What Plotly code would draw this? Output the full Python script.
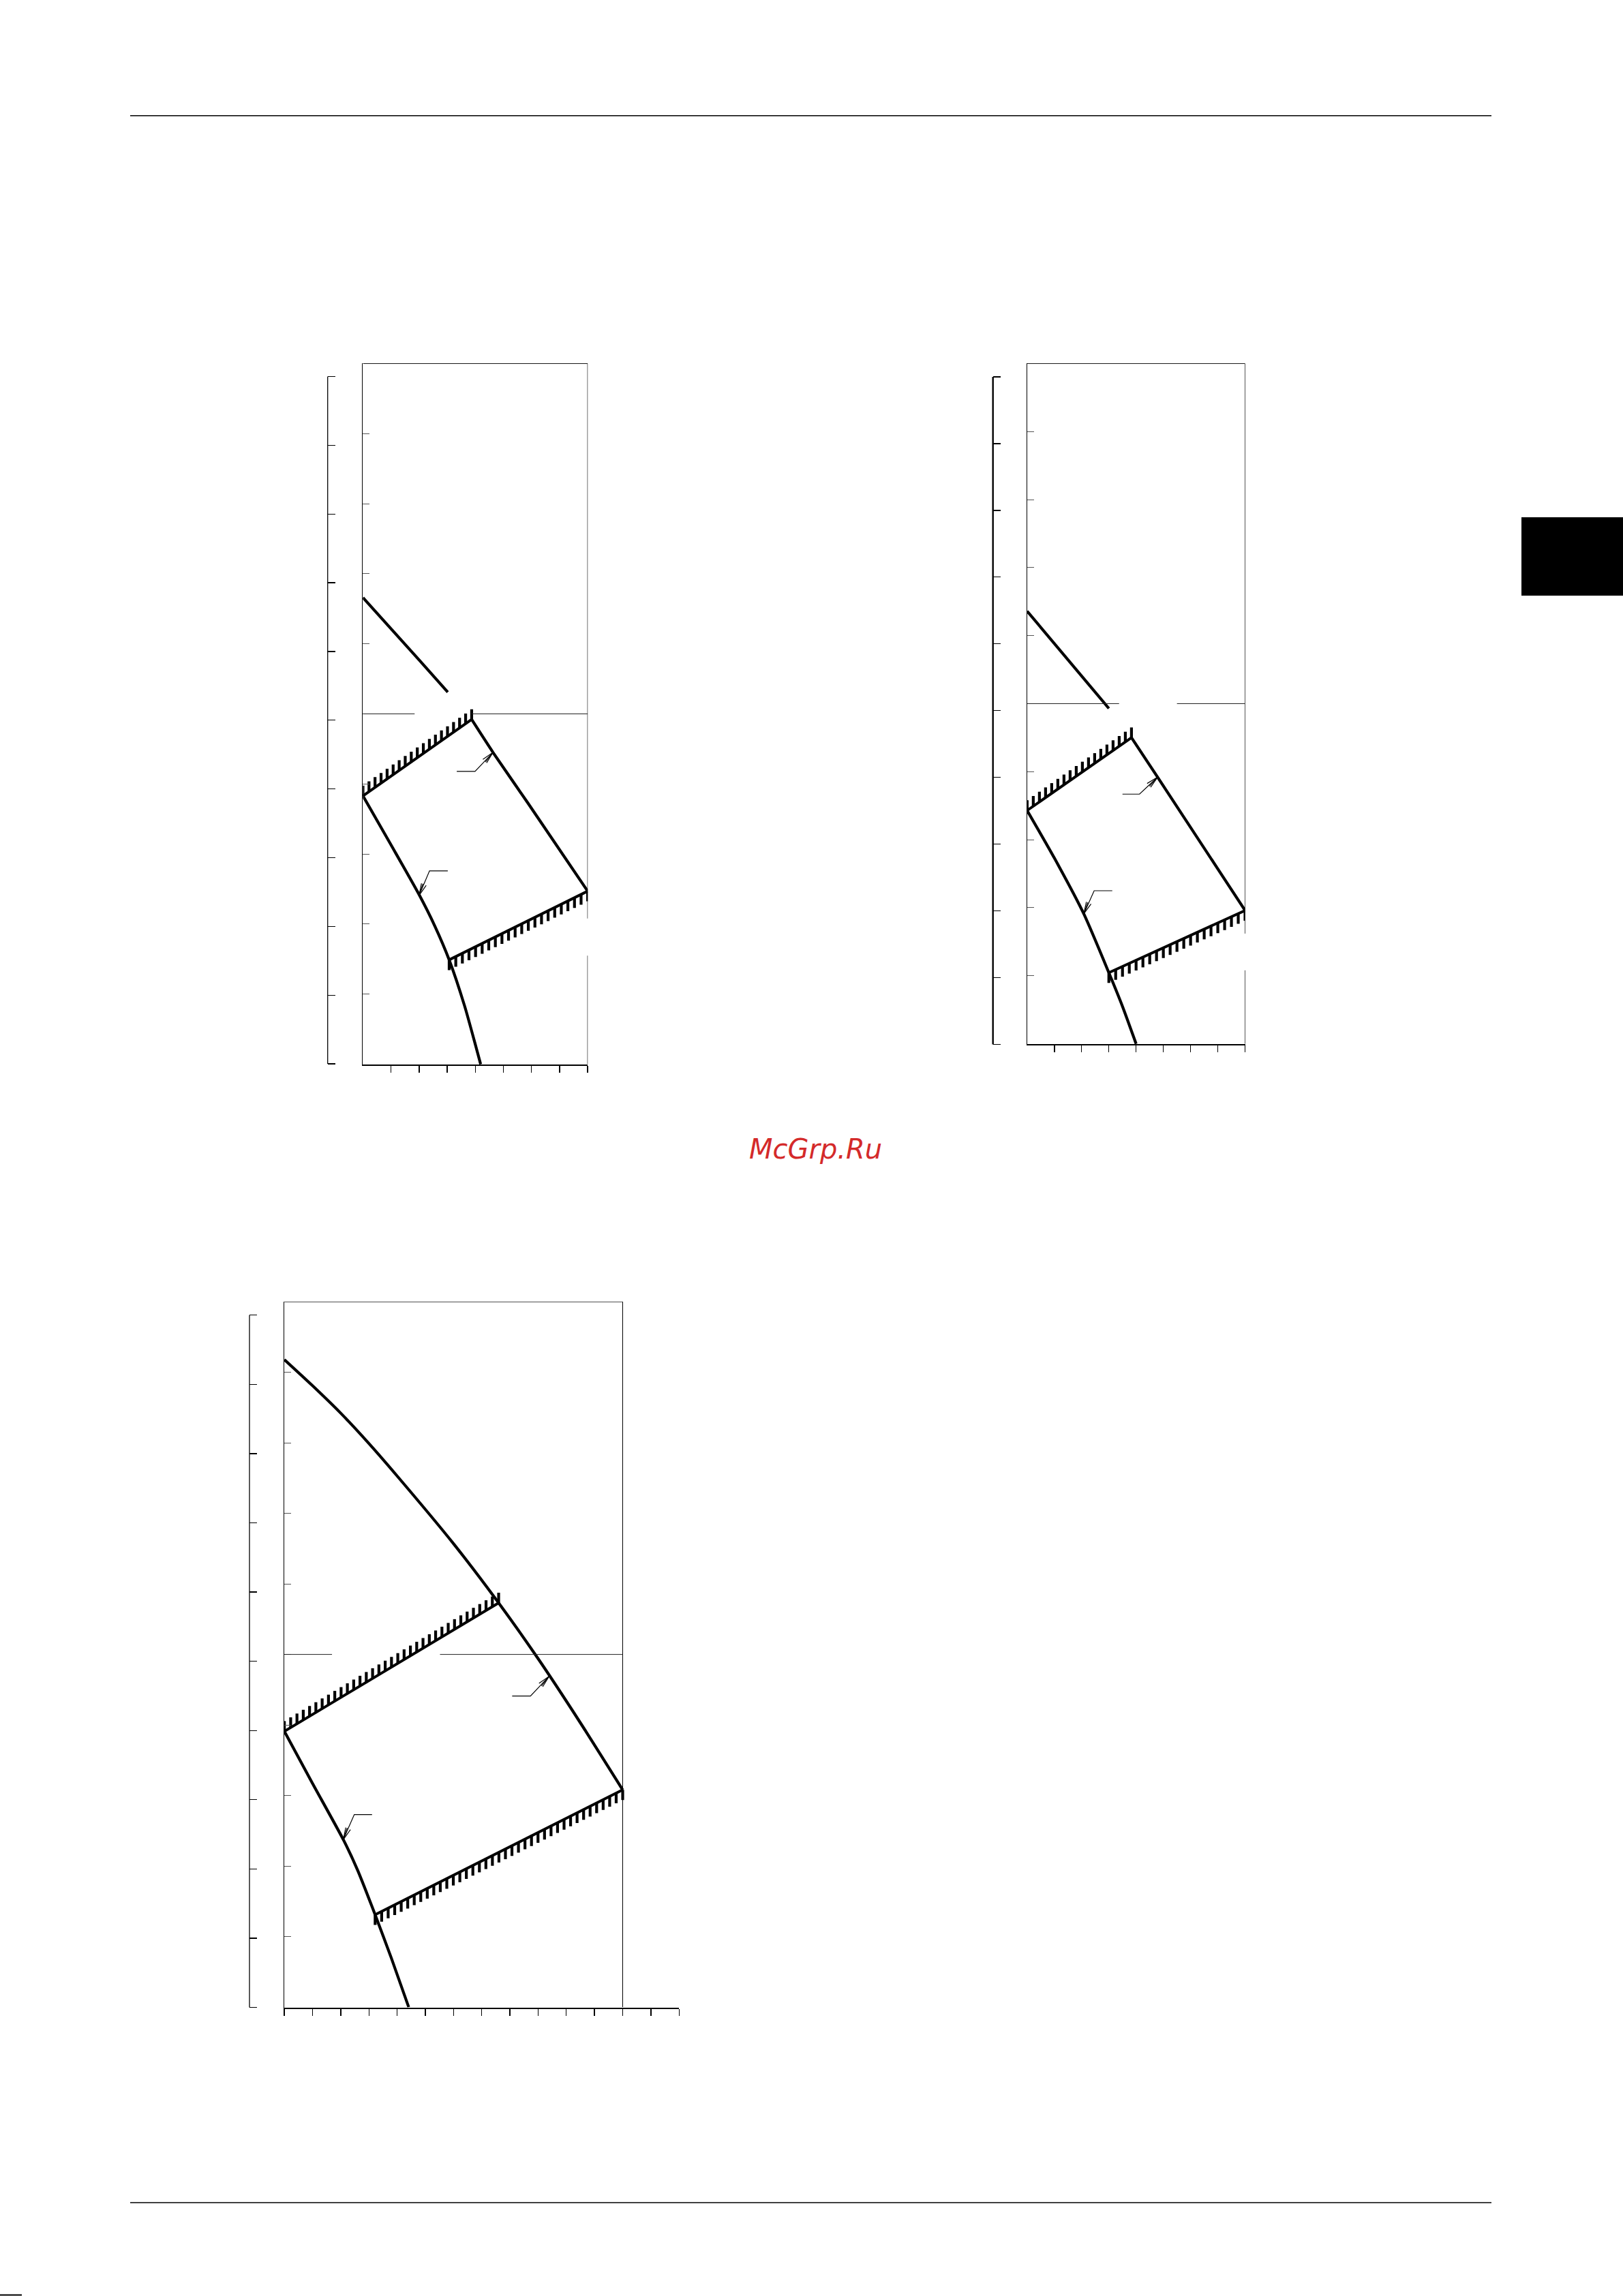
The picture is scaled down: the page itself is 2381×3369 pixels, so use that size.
import numpy as np
import plotly.graph_objects as go

W, H = 2381, 3369

# ---------------- data (chart units) ----------------
# Chart 1 (top left)
c1_A_x = [0, 1, 2, 3.02]
c1_A_y = [6.66, 6.22, 5.77, 5.31]
c1_HU_x = [0, 3.87]
c1_HU_y = [3.83, 4.92]
c1_B_x = [3.87, 4.63, 5.85, 8]
c1_B_y = [4.92, 4.45, 3.74, 2.47]
c1_C_x = [0, 1, 2, 2.55, 3.07, 3.62, 4.19]
c1_C_y = [3.83, 3.13, 2.42, 1.98, 1.49, 0.83, 0.0]
c1_HL_x = [3.07, 8]
c1_HL_y = [1.49, 2.47]
c1_LU_x = [3.34, 3.99, 4.63]
c1_LU_y = [4.18, 4.18, 4.45]
c1_LL_x = [3.02, 2.37, 2.0]
c1_LL_y = [2.76, 2.76, 2.41]

# Chart 2 (top right)
c2_A_x = [0, 1.5, 3.0]
c2_A_y = [6.36, 5.645, 4.93]
c2_HU_x = [0, 3.83]
c2_HU_y = [3.43, 4.50]
c2_B_x = [3.83, 4.79, 8]
c2_B_y = [4.50, 3.92, 1.96]
c2_C_x = [0, 1, 2.08, 3.0, 3.5, 4.0]
c2_C_y = [3.43, 2.73, 1.91, 1.045, 0.55, 0.0]
c2_HL_x = [3.0, 8]
c2_HL_y = [1.045, 1.96]
c2_LU_x = [3.5, 4.125, 4.79]
c2_LU_y = [3.67, 3.67, 3.92]
c2_LL_x = [3.125, 2.46, 2.08]
c2_LL_y = [2.25, 2.25, 1.91]

# Chart 3 (bottom)
c3_A_x = [0, 1, 2, 3, 4, 6, 7.6, 9, 10.5, 12]
c3_A_y = [9.18, 8.81, 8.42, 7.99, 7.53, 6.57, 5.73, 4.94, 4.03, 3.08]
c3_HU_x = [0, 7.6]
c3_HU_y = [3.91, 5.73]
c3_C_x = [0, 1, 2.11, 2.6, 3.22, 3.79, 4.41]
c3_C_y = [3.91, 3.17, 2.36, 1.94, 1.31, 0.70, 0.0]
c3_HL_x = [3.22, 12]
c3_HL_y = [1.31, 3.08]
c3_LU_x = [8.08, 8.73, 9.39]
c3_LU_y = [4.41, 4.41, 4.69]
c3_LL_x = [3.11, 2.48, 2.09]
c3_LL_y = [2.73, 2.73, 2.375]

# tick values
inner_ticks = list(range(0, 11))
outer_ticks = list(range(0, 11))
c1_xticks = list(range(1, 9))
c2_xticks = list(range(1, 9))
c3_xticks = list(range(0, 15))

# ---------------- layout geometry (pixels) ----------------
BOX1 = (532.3, 533, 862.3, 1562)
BOX2 = (1506.7, 533, 1826.7, 1532)
BOX3 = (417, 1909.7, 996.4, 2945.5)
OUT1 = (480.7, 552.5, 1561)
OUT2 = (1456.7, 553, 1532.4)
OUT3 = (366, 1929.7, 2945.5)

XR1, XR2, XR3 = [0, 8], [0, 8], [0, 14]
YR = [0, 10]
EPS = 0.004
PADU = 0.3  # outer-scale padding (units) so end ticks are drawn


def dom_x(x0, x1):
    return [x0 / W, x1 / W]


def dom_y(ytop, ybot):
    return [1 - ybot / H, 1 - ytop / H]


def scale(box, xr):
    X0, Y0, X1, Y1 = box
    return (X1 - X0) / (xr[1] - xr[0]), (Y1 - Y0) / (YR[1] - YR[0])


def hatch_bars(lx, ly, sx, sy, direction, step_px=10.5, bar_px=15.0):
    x0, x1 = lx[0], lx[-1]
    y0, y1 = ly[0], ly[-1]
    L = np.hypot((x1 - x0) * sx, (y1 - y0) * sy)
    n = max(int(L // step_px), 1)
    bx, by = [], []
    for t in np.linspace(0, 1, n + 1):
        xx = x0 + t * (x1 - x0)
        yy = y0 + t * (y1 - y0)
        bx += [xx, xx, None]
        by += [yy, yy + direction * bar_px / sy, None]
    return bx, by


def arrow_head(px, py, sx, sy, head_px=18, ang=12):
    dx = (px[-1] - px[-2]) * sx
    dy = (py[-1] - py[-2]) * sy
    n = np.hypot(dx, dy)
    ux, uy = dx / n, dy / n
    hx, hy = [], []
    for a in (ang, -ang, ang * 0.4):
        r = np.radians(a)
        vx = -(ux * np.cos(r) - uy * np.sin(r))
        vy = -(ux * np.sin(r) + uy * np.cos(r))
        hx += [px[-1], px[-1] + vx * head_px / sx, None]
        hy += [py[-1], py[-1] + vy * head_px / sy, None]
    return hx, hy


fig = go.Figure()


def add_chart(k, box, xr, curves, hatches, leaders):
    xa = "x" if k == 1 else f"x{k}"
    ya = "y" if k == 1 else f"y{k}"
    sx, sy = scale(box, xr)
    for (cx, cy, shape) in curves:
        fig.add_trace(go.Scatter(x=cx, y=cy, xaxis=xa, yaxis=ya, mode="lines",
                                 line=dict(color="black", width=4.2, shape=shape, smoothing=0.6),
                                 hoverinfo="skip", showlegend=False))
    for (hx, hy, d) in hatches:
        fig.add_trace(go.Scatter(x=hx, y=hy, xaxis=xa, yaxis=ya, mode="lines",
                                 line=dict(color="black", width=4.0),
                                 hoverinfo="skip", showlegend=False))
        bx, by = hatch_bars(hx, hy, sx, sy, d)
        fig.add_trace(go.Scatter(x=bx, y=by, xaxis=xa, yaxis=ya, mode="lines",
                                 line=dict(color="black", width=4.2),
                                 hoverinfo="skip", showlegend=False))
    for (lx, ly) in leaders:
        ax_, ay_ = arrow_head(lx, ly, sx, sy)
        fig.add_trace(go.Scatter(x=list(lx) + [None] + ax_, y=list(ly) + [None] + ay_,
                                 xaxis=xa, yaxis=ya, mode="lines",
                                 line=dict(color="black", width=1.2),
                                 hoverinfo="skip", showlegend=False))


add_chart(1, BOX1, XR1,
          [(c1_A_x, c1_A_y, "linear"), (c1_B_x, c1_B_y, "spline"), (c1_C_x, c1_C_y, "spline")],
          [(c1_HU_x, c1_HU_y, 1), (c1_HL_x, c1_HL_y, -1)],
          [(c1_LU_x, c1_LU_y), (c1_LL_x, c1_LL_y)])
add_chart(2, BOX2, XR2,
          [(c2_A_x, c2_A_y, "linear"), (c2_B_x, c2_B_y, "spline"), (c2_C_x, c2_C_y, "spline")],
          [(c2_HU_x, c2_HU_y, 1), (c2_HL_x, c2_HL_y, -1)],
          [(c2_LU_x, c2_LU_y), (c2_LL_x, c2_LL_y)])
add_chart(3, BOX3, XR3,
          [(c3_A_x, c3_A_y, "spline"), (c3_C_x, c3_C_y, "spline")],
          [(c3_HU_x, c3_HU_y, 1), (c3_HL_x, c3_HL_y, -1)],
          [(c3_LU_x, c3_LU_y), (c3_LL_x, c3_LL_y)])

# invisible anchors for outer scales
for k in (4, 5, 6):
    fig.add_trace(go.Scatter(x=[0.5] * len(outer_ticks), y=outer_ticks, xaxis=f"x{k}", yaxis=f"y{k}",
                             mode="markers", marker=dict(opacity=0), hoverinfo="skip", showlegend=False))

layout = dict(width=W, height=H, margin=dict(l=0, r=0, t=0, b=0, pad=0),
              paper_bgcolor="white", plot_bgcolor="white", showlegend=False)


def x_axis(box, xr, ticks, anchor):
    return dict(domain=dom_x(box[0], box[2]), range=[xr[0] - EPS, xr[1] + EPS], anchor=anchor,
                showline=True, linecolor="black", linewidth=2,
                ticks="outside", ticklen=10, tickwidth=1.4, tickcolor="black",
                tickvals=ticks, showticklabels=False, showgrid=False, zeroline=False,
                fixedrange=True)


def y_axis(box, anchor):
    return dict(domain=dom_y(box[1], box[3]), range=[YR[0] - EPS, YR[1] + EPS], anchor=anchor,
                showline=True, linecolor="black", linewidth=1,
                ticks="inside", ticklen=10, tickwidth=1, tickcolor="#555",
                tickvals=inner_ticks, showticklabels=False, showgrid=False, zeroline=False,
                fixedrange=True)


def outer_axes(out, anchor):
    X, yt, yb = out
    s = (yb - yt) / (YR[1] - YR[0])
    xa = dict(domain=dom_x(X, X + 20), range=[0, 1], visible=False, fixedrange=True)
    ya = dict(domain=dom_y(yt - PADU * s, yb + PADU * s), range=[YR[0] - PADU, YR[1] + PADU],
              anchor=anchor, side="left", showline=False,
              ticks="inside", ticklen=11, tickwidth=1.3, tickcolor="black",
              tickvals=outer_ticks, showticklabels=False, showgrid=False, zeroline=False,
              fixedrange=True)
    return xa, ya


layout["xaxis"] = x_axis(BOX1, XR1, c1_xticks, "y")
layout["yaxis"] = y_axis(BOX1, "x")
layout["xaxis2"] = x_axis(BOX2, XR2, c2_xticks, "y2")
layout["yaxis2"] = y_axis(BOX2, "x2")
layout["xaxis3"] = x_axis(BOX3, XR3, c3_xticks, "y3")
layout["yaxis3"] = y_axis(BOX3, "x3")
for k, out in ((4, OUT1), (5, OUT2), (6, OUT3)):
    xa, ya = outer_axes(out, f"x{k}")
    layout[f"xaxis{k}"] = xa
    layout[f"yaxis{k}"] = ya

fig.update_layout(**layout)

# ---------------- frame pieces ----------------
THIN = dict(color="black", width=1)
MID = dict(color="#222", width=1)
shapes = []

for xr_, yr_, xmax, rgap, mgap in (("x", "y", 8, (1.55, 2.08), (1.84, 3.85)),
                                   ("x2", "y2", 8, (1.08, 1.62), (3.375, 5.5)),
                                   ("x3", "y3", 12, None, (1.69, 5.52))):
    shapes.append(dict(type="line", xref=xr_, yref=yr_, x0=0, x1=xmax, y0=10, y1=10, line=THIN))
    if rgap:
        shapes.append(dict(type="line", xref=xr_, yref=yr_, x0=xmax, x1=xmax, y0=0, y1=rgap[0], line=THIN))
        shapes.append(dict(type="line", xref=xr_, yref=yr_, x0=xmax, x1=xmax, y0=rgap[1], y1=10, line=THIN))
    else:
        shapes.append(dict(type="line", xref=xr_, yref=yr_, x0=xmax, x1=xmax, y0=0, y1=10, line=THIN))
    shapes.append(dict(type="line", xref=xr_, yref=yr_, x0=0, x1=mgap[0], y0=5, y1=5, line=MID))
    shapes.append(dict(type="line", xref=xr_, yref=yr_, x0=mgap[1], x1=xmax, y0=5, y1=5, line=MID))

# spines of the outer scales
for k, lw in ((4, 1.3), (5, 2.4), (6, 1.3)):
    shapes.append(dict(type="line", xref=f"x{k} domain", yref=f"y{k}", x0=0, x1=0,
                       y0=YR[0], y1=YR[1], line=dict(color="black", width=lw)))

# page decorations
shapes.append(dict(type="line", xref="paper", yref="paper", x0=191 / W, x1=2188 / W,
                   y0=1 - 169.8 / H, y1=1 - 169.8 / H, line=dict(color="black", width=1.5)))
shapes.append(dict(type="line", xref="paper", yref="paper", x0=191 / W, x1=2188 / W,
                   y0=1 - 3232 / H, y1=1 - 3232 / H, line=dict(color="black", width=1.5)))
shapes.append(dict(type="rect", xref="paper", yref="paper", x0=2232 / W, x1=1.0,
                   y0=1 - 874 / H, y1=1 - 759 / H, fillcolor="black", line=dict(width=0)))
shapes.append(dict(type="line", xref="paper", yref="paper", x0=0, x1=32 / W,
                   y0=1 - 3367.5 / H, y1=1 - 3367.5 / H, line=dict(color="black", width=2)))

fig.update_layout(shapes=shapes)

fig.add_annotation(x=1196 / W, y=1 - 1686 / H, xref="paper", yref="paper",
                   text="McGrp.Ru", showarrow=False, xanchor="center", yanchor="middle",
                   font=dict(family="DejaVu Sans", size=40, color="#d42a2a", style="italic"))

fig.write_html("out.html", config={"displayModeBar": False, "staticPlot": True},
               post_script="document.body.style.margin='0';")
